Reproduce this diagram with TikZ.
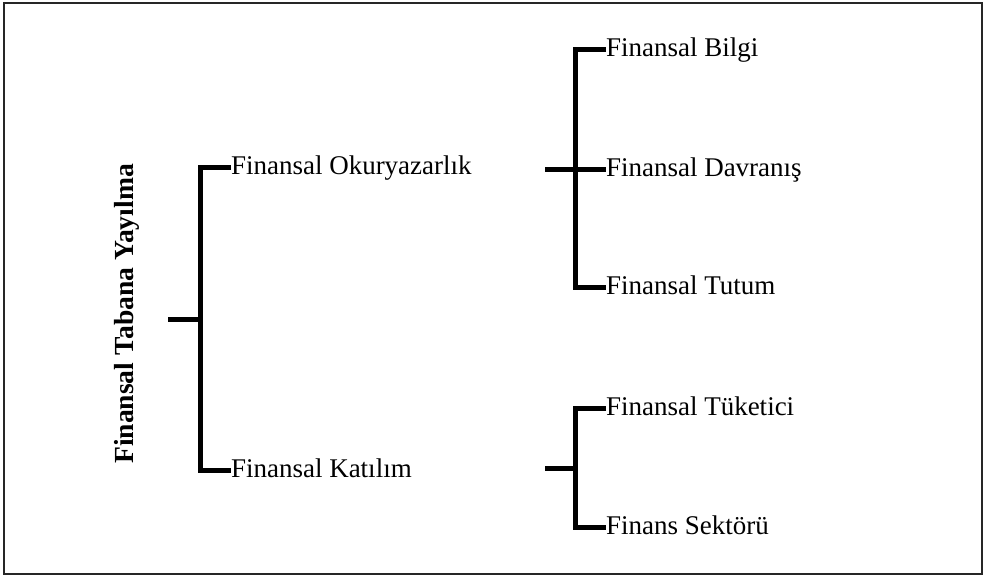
\documentclass[tikz,border=0pt]{standalone}
\usepackage{fontspec}
\setmainfont{Liberation Serif}
\usetikzlibrary{positioning,calc}

\begin{document}
\begin{tikzpicture}[
    x=0.5pt, y=-0.5pt,
    font=\fontsize{13.5}{16}\selectfont,
    leaf/.style={anchor=west, inner sep=0pt, outer sep=0pt, text height=9pt, text depth=2pt},
    head/.style={font=\fontsize{13.8}{16}\selectfont\bfseries, rotate=90, anchor=base, inner sep=0pt},
    link/.style={line width=2.5pt, line join=miter},
    frame/.style={draw=black!85, line width=1pt}
  ]
    \useasboundingbox (0,0) rectangle (984,577);
    \draw[frame] (4,3) rectangle (982,574);
    \node[head] (root) at (133,314) {Finansal Tabana Yayılma};
    \coordinate (rootS) at (168,319);
    \coordinate (rootJ) at (200,319);
    \node[leaf] (lit) at (231,168) {Finansal Okuryazarlık};
    \node[leaf] (kat) at (231,470) {Finansal Katılım};
    \coordinate (litS) at (545,170);
    \coordinate (litJ) at (575,170);
    \coordinate (katS) at (545,468);
    \coordinate (katJ) at (575,468);
    \node[leaf] (bilgi) at (606,50) {Finansal Bilgi};
    \node[leaf] (davr) at (606,170) {Finansal Davranış};
    \node[leaf] (tutum) at (606,287) {Finansal Tutum};
    \node[leaf] (tuk) at (606,408) {Finansal Tüketici};
    \node[leaf] (sek) at (606,527) {Finans Sektörü};
    \draw[link] (rootS) -- (rootJ);
    \draw[link] (lit.west) -| (rootJ) |- (kat.west);
    \draw[link] (litS) -- (litJ);
    \draw[link] (bilgi.west) -| (litJ) |- (tutum.west);
    \draw[link] (litJ) -- (davr.west);
    \draw[link] (katS) -- (katJ);
    \draw[link] (tuk.west) -| (katJ) |- (sek.west);
  \end{tikzpicture}
\end{document}
